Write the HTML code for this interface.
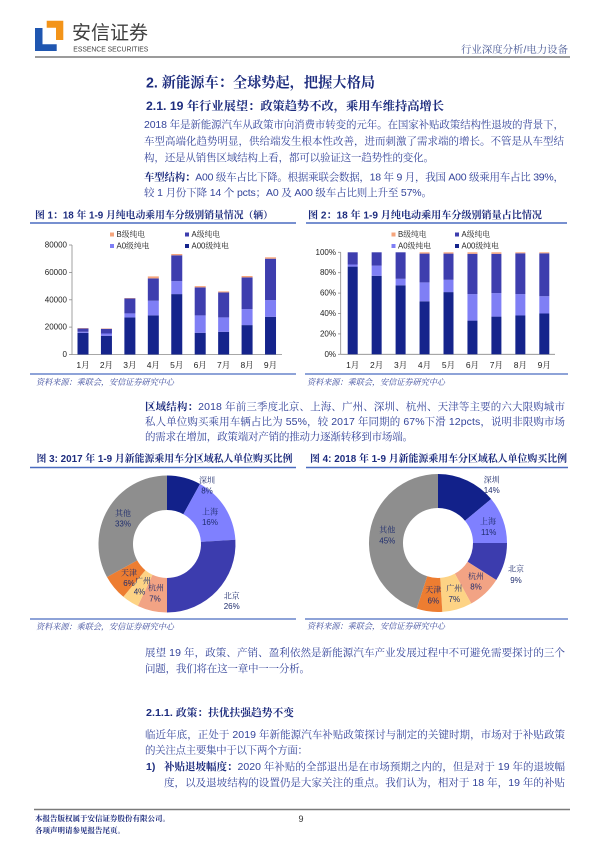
<!DOCTYPE html>
<html><head><meta charset="utf-8">
<style>
html,body{margin:0;padding:0;background:#fff;}
svg{display:block;}
text{font-family:"Liberation Sans","Noto Serif CJK SC",serif;dominant-baseline:central;}
.b{font-size:10.5px;fill:#34449a;}
.bb{font-weight:bold;fill:#1d2c7e;}
.ft{font-size:10px;font-weight:bold;fill:#1d2c7e;}
.src{font-size:8.5px;font-style:italic;fill:#3b4a9c;}
.tk{font-size:8px;fill:#222;}
.lg{font-size:7.8px;fill:#222;}
.pl{font-size:8px;fill:#1f2d6e;}
</style></head>
<body>
<svg width="600" height="848" viewBox="0 0 600 848" xmlns="http://www.w3.org/2000/svg">
<rect width="600" height="848" fill="#fff"/>
<!-- Header logo -->
<path d="M35,28 H42.5 V44.3 H56.7 V51 H35 Z" fill="#1f56b0"/>
<path d="M46.7,20.7 H63.3 V40 H56 V27.7 H46.7 Z" fill="#f39419"/>
<text x="72" y="33.5" style="font-size:19px;fill:#404040;font-family:'Liberation Sans','Noto Sans CJK SC',sans-serif" textLength="76" lengthAdjust="spacingAndGlyphs">安信证券</text>
<text x="73.3" y="49.2" style="font-size:7.5px;fill:#404040;font-family:'Liberation Sans',sans-serif" textLength="75" lengthAdjust="spacingAndGlyphs">ESSENCE SECURITIES</text>
<text x="568" y="50.5" text-anchor="end" style="font-size:10px;fill:#4a5a96" textLength="107" lengthAdjust="spacingAndGlyphs">行业深度分析/电力设备</text>
<line x1="35" y1="57" x2="570" y2="57" stroke="#7a7a7a" stroke-width="1.6"/>

<!-- Titles -->
<text x="146" y="83.5" style="font-size:14.5px;font-weight:bold;fill:#1d2c7e" textLength="229" lengthAdjust="spacingAndGlyphs">2. 新能源车：全球势起，把握大格局</text>
<text x="146" y="106" style="font-size:12px;font-weight:bold;fill:#1d2c7e" textLength="298" lengthAdjust="spacingAndGlyphs">2.1. 19 年行业展望：政策趋势不改，乘用车维持高增长</text>

<!-- Paragraph 1 -->
<text class="b" x="144" y="125" textLength="420" lengthAdjust="spacing">2018 年是新能源汽车从政策市向消费市转变的元年。在国家补贴政策结构性退坡的背景下，</text>
<text class="b" x="144" y="141.5" textLength="420" lengthAdjust="spacing">车型高端化趋势明显，供给端发生根本性改善，进而刺激了需求端的增长。不管是从车型结</text>
<text class="b" x="144" y="158" textLength="290" lengthAdjust="spacing">构，还是从销售区域结构上看，都可以验证这一趋势性的变化。</text>
<text class="b" x="144" y="177.5" textLength="420" lengthAdjust="spacing"><tspan class="bb">车型结构：</tspan>A00 级车占比下降。根据乘联会数据，18 年 9 月，我国 A00 级乘用车占比 39%，</text>
<text class="b" x="144" y="193" textLength="288" lengthAdjust="spacing">较 1 月份下降 14 个 pcts；A0 及 A00 级车占比则上升至 57%。</text>

<!-- Figure 1 -->
<text class="ft" x="35" y="216" textLength="238" lengthAdjust="spacingAndGlyphs">图 1：18 年 1-9 月纯电动乘用车分级别销量情况（辆）</text>
<line x1="30" y1="223" x2="296" y2="223" stroke="#4a6cc0" stroke-width="1.5"/>
<rect x="110" y="232.5" width="4" height="4" fill="#f5a57c"/><text class="lg" x="116.5" y="234.5">B级纯电</text>
<rect x="185" y="232.5" width="4" height="4" fill="#3e3eae"/><text class="lg" x="191.5" y="234.5">A级纯电</text>
<rect x="110" y="244" width="4" height="4" fill="#7f7ff5"/><text class="lg" x="116.5" y="246">A0级纯电</text>
<rect x="185" y="244" width="4" height="4" fill="#15248c"/><text class="lg" x="191.5" y="246">A00级纯电</text>
<g class="tk" text-anchor="end">
<text x="67" y="245">80000</text><text x="67" y="272.4">60000</text><text x="67" y="299.8">40000</text><text x="67" y="327.1">20000</text><text x="67" y="354.5">0</text>
</g>
<g stroke="#8a8a8a" stroke-width="0.8">
<line x1="72" y1="245" x2="72" y2="354.5"/><line x1="72" y1="354.5" x2="282" y2="354.5"/>
<line x1="69" y1="245" x2="72" y2="245"/><line x1="69" y1="272.4" x2="72" y2="272.4"/><line x1="69" y1="299.8" x2="72" y2="299.8"/><line x1="69" y1="327.1" x2="72" y2="327.1"/><line x1="69" y1="354.5" x2="72" y2="354.5"/>
</g>
<g>
<rect x="77.5" y="332.8" width="11" height="21.7" fill="#15248c"/><rect x="77.5" y="331.8" width="11" height="1" fill="#7f7ff5"/><rect x="77.5" y="328.5" width="11" height="3.3" fill="#3e3eae"/><rect x="77.5" y="328.1" width="11" height="0.4" fill="#f5a57c"/>
<rect x="100.94" y="335.8" width="11" height="18.7" fill="#15248c"/><rect x="100.94" y="333.5" width="11" height="2.3" fill="#7f7ff5"/><rect x="100.94" y="328.8" width="11" height="4.7" fill="#3e3eae"/><rect x="100.94" y="328.4" width="11" height="0.4" fill="#f5a57c"/>
<rect x="124.38" y="317.4" width="11" height="37.1" fill="#15248c"/><rect x="124.38" y="313.4" width="11" height="4" fill="#7f7ff5"/><rect x="124.38" y="298.4" width="11" height="15" fill="#3e3eae"/><rect x="124.38" y="298" width="11" height="0.4" fill="#f5a57c"/>
<rect x="147.82" y="315.4" width="11" height="39.1" fill="#15248c"/><rect x="147.82" y="300.7" width="11" height="14.7" fill="#7f7ff5"/><rect x="147.82" y="278.4" width="11" height="22.3" fill="#3e3eae"/><rect x="147.82" y="276.4" width="11" height="2" fill="#f5a57c"/>
<rect x="171.26" y="294.1" width="11" height="60.4" fill="#15248c"/><rect x="171.26" y="281.1" width="11" height="13" fill="#7f7ff5"/><rect x="171.26" y="255.3" width="11" height="25.8" fill="#3e3eae"/><rect x="171.26" y="254" width="11" height="1.3" fill="#f5a57c"/>
<rect x="194.7" y="332.8" width="11" height="21.7" fill="#15248c"/><rect x="194.7" y="315.4" width="11" height="17.4" fill="#7f7ff5"/><rect x="194.7" y="287.4" width="11" height="28" fill="#3e3eae"/><rect x="194.7" y="286.1" width="11" height="1.3" fill="#f5a57c"/>
<rect x="218.14" y="331.8" width="11" height="22.7" fill="#15248c"/><rect x="218.14" y="317.4" width="11" height="14.4" fill="#7f7ff5"/><rect x="218.14" y="292.4" width="11" height="25" fill="#3e3eae"/><rect x="218.14" y="291.4" width="11" height="1" fill="#f5a57c"/>
<rect x="241.58" y="325.1" width="11" height="29.4" fill="#15248c"/><rect x="241.58" y="309.1" width="11" height="16" fill="#7f7ff5"/><rect x="241.58" y="277.4" width="11" height="31.7" fill="#3e3eae"/><rect x="241.58" y="276" width="11" height="1.4" fill="#f5a57c"/>
<rect x="265.02" y="316.8" width="11" height="37.7" fill="#15248c"/><rect x="265.02" y="300.1" width="11" height="16.7" fill="#7f7ff5"/><rect x="265.02" y="258.7" width="11" height="41.4" fill="#3e3eae"/><rect x="265.02" y="257.3" width="11" height="1.4" fill="#f5a57c"/>
</g>
<g class="tk" text-anchor="middle" style="font-size:8.5px">
<text x="83" y="365">1月</text><text x="106.44" y="365">2月</text><text x="129.88" y="365">3月</text><text x="153.32" y="365">4月</text><text x="176.76" y="365">5月</text><text x="200.2" y="365">6月</text><text x="223.64" y="365">7月</text><text x="247.08" y="365">8月</text><text x="270.52" y="365">9月</text>
</g>
<line x1="30" y1="374" x2="296" y2="374" stroke="#4a6cc0" stroke-width="1.2"/>
<text class="src" x="36" y="382" textLength="138" lengthAdjust="spacingAndGlyphs">资料来源：乘联会，安信证券研究中心</text>

<!-- Figure 2 -->
<text class="ft" x="308" y="216" textLength="234" lengthAdjust="spacingAndGlyphs">图 2：18 年 1-9 月纯电动乘用车分级别销量占比情况</text>
<line x1="306" y1="223" x2="567" y2="223" stroke="#4a6cc0" stroke-width="1.5"/>
<rect x="391.5" y="232.5" width="4" height="4" fill="#f5a57c"/><text class="lg" x="398" y="234.5">B级纯电</text>
<rect x="455" y="232.5" width="4" height="4" fill="#3e3eae"/><text class="lg" x="461.5" y="234.5">A级纯电</text>
<rect x="391.5" y="244" width="4" height="4" fill="#7f7ff5"/><text class="lg" x="398" y="246">A0级纯电</text>
<rect x="455" y="244" width="4" height="4" fill="#15248c"/><text class="lg" x="461.5" y="246">A00级纯电</text>
<g class="tk" text-anchor="end">
<text x="336" y="252.3">100%</text><text x="336" y="272.7">80%</text><text x="336" y="293.1">60%</text><text x="336" y="313.5">40%</text><text x="336" y="333.9">20%</text><text x="336" y="354.3">0%</text>
</g>
<g stroke="#8a8a8a" stroke-width="0.8">
<line x1="340.7" y1="252.3" x2="340.7" y2="354.3"/><line x1="340.7" y1="354.3" x2="555" y2="354.3"/>
<line x1="338" y1="252.3" x2="340.7" y2="252.3"/><line x1="338" y1="272.7" x2="340.7" y2="272.7"/><line x1="338" y1="293.1" x2="340.7" y2="293.1"/><line x1="338" y1="313.5" x2="340.7" y2="313.5"/><line x1="338" y1="333.9" x2="340.7" y2="333.9"/><line x1="338" y1="354.3" x2="340.7" y2="354.3"/>
</g>
<g>
<rect x="347.7" y="266.6" width="10" height="87.7" fill="#15248c"/><rect x="347.7" y="264.5" width="10" height="2.1" fill="#7f7ff5"/><rect x="347.7" y="252.3" width="10" height="12.2" fill="#3e3eae"/>
<rect x="371.65" y="275.8" width="10" height="78.5" fill="#15248c"/><rect x="371.65" y="265.6" width="10" height="10.2" fill="#7f7ff5"/><rect x="371.65" y="252.3" width="10" height="13.3" fill="#3e3eae"/>
<rect x="395.6" y="285.3" width="10" height="69" fill="#15248c"/><rect x="395.6" y="278.8" width="10" height="6.5" fill="#7f7ff5"/><rect x="395.6" y="252.3" width="10" height="26.5" fill="#3e3eae"/>
<rect x="419.55" y="301.3" width="10" height="53" fill="#15248c"/><rect x="419.55" y="282.4" width="10" height="18.9" fill="#7f7ff5"/><rect x="419.55" y="253.6" width="10" height="28.8" fill="#3e3eae"/><rect x="419.55" y="252.3" width="10" height="1.3" fill="#f5a57c"/>
<rect x="443.5" y="292.1" width="10" height="62.2" fill="#15248c"/><rect x="443.5" y="279.8" width="10" height="12.3" fill="#7f7ff5"/><rect x="443.5" y="253.6" width="10" height="26.2" fill="#3e3eae"/><rect x="443.5" y="252.3" width="10" height="1.3" fill="#f5a57c"/>
<rect x="467.45" y="320.6" width="10" height="33.7" fill="#15248c"/><rect x="467.45" y="294.1" width="10" height="26.5" fill="#7f7ff5"/><rect x="467.45" y="253.8" width="10" height="40.3" fill="#3e3eae"/><rect x="467.45" y="252.3" width="10" height="1.5" fill="#f5a57c"/>
<rect x="491.4" y="316.6" width="10" height="37.7" fill="#15248c"/><rect x="491.4" y="293.1" width="10" height="23.5" fill="#7f7ff5"/><rect x="491.4" y="253.8" width="10" height="39.3" fill="#3e3eae"/><rect x="491.4" y="252.3" width="10" height="1.5" fill="#f5a57c"/>
<rect x="515.35" y="315.5" width="10" height="38.8" fill="#15248c"/><rect x="515.35" y="294.1" width="10" height="21.4" fill="#7f7ff5"/><rect x="515.35" y="253.3" width="10" height="40.8" fill="#3e3eae"/><rect x="515.35" y="252.3" width="10" height="1" fill="#f5a57c"/>
<rect x="539.3" y="313.5" width="10" height="40.8" fill="#15248c"/><rect x="539.3" y="296.2" width="10" height="17.3" fill="#7f7ff5"/><rect x="539.3" y="253.3" width="10" height="42.9" fill="#3e3eae"/><rect x="539.3" y="252.3" width="10" height="1" fill="#f5a57c"/>
</g>
<g class="tk" text-anchor="middle" style="font-size:8.5px">
<text x="352.7" y="365">1月</text><text x="376.65" y="365">2月</text><text x="400.6" y="365">3月</text><text x="424.55" y="365">4月</text><text x="448.5" y="365">5月</text><text x="472.45" y="365">6月</text><text x="496.4" y="365">7月</text><text x="520.35" y="365">8月</text><text x="544.3" y="365">9月</text>
</g>
<line x1="305" y1="374" x2="568" y2="374" stroke="#4a6cc0" stroke-width="1.2"/>
<text class="src" x="307" y="382" textLength="138" lengthAdjust="spacingAndGlyphs">资料来源：乘联会，安信证券研究中心</text>

<!-- Paragraph 区域结构 -->
<text class="b" x="145" y="407" textLength="420" lengthAdjust="spacing"><tspan class="bb">区域结构：</tspan>2018 年前三季度北京、上海、广州、深圳、杭州、天津等主要的六大限购城市</text>
<text class="b" x="145" y="422" textLength="420" lengthAdjust="spacing">私人单位购买乘用车辆占比为 55%，较 2017 年同期的 67%下滑 12pcts，说明非限购市场</text>
<text class="b" x="145" y="437" textLength="268" lengthAdjust="spacing">的需求在增加，政策端对产销的推动力逐渐转移到市场端。</text>

<!-- Figure 3 -->
<text class="ft" x="36.5" y="459.5" textLength="256" lengthAdjust="spacingAndGlyphs">图 3: 2017 年 1-9 月新能源乘用车分区域私人单位购买比例</text>
<line x1="30" y1="467.5" x2="296" y2="467.5" stroke="#4a6cc0" stroke-width="1.5"/>
<g>
<path d="M167,475.5 A68.5,68.5 0 0 1 200,483.97 L183.38,514.21 A34,34 0 0 0 167,510 Z" fill="#12218a"/>
<path d="M200,483.97 A68.5,68.5 0 0 1 235.36,539.7 L200.93,541.86 A34,34 0 0 0 183.38,514.21 Z" fill="#7f80ff"/>
<path d="M235.36,539.7 A68.5,68.5 0 0 1 167,612.5 L167,578 A34,34 0 0 0 200.93,541.86 Z" fill="#3c3cae"/>
<path d="M167,612.5 A68.5,68.5 0 0 1 137.83,605.98 L152.52,574.76 A34,34 0 0 0 167,578 Z" fill="#f2a384"/>
<path d="M137.83,605.98 A68.5,68.5 0 0 1 123.34,596.78 L145.33,570.2 A34,34 0 0 0 152.52,574.76 Z" fill="#fdd385"/>
<path d="M123.34,596.78 A68.5,68.5 0 0 1 106.97,577 L137.21,560.38 A34,34 0 0 0 145.33,570.2 Z" fill="#ed7d31"/>
<path d="M106.97,577 A68.5,68.5 0 0 1 167,475.5 L167,510 A34,34 0 0 0 137.21,560.38 Z" fill="#8e8e8e"/>
</g>
<g class="pl" text-anchor="middle">
<text x="207" y="480.5">深圳</text><text x="207" y="491">8%</text>
<text x="210" y="512">上海</text><text x="210" y="522.5">16%</text>
<text x="231.7" y="596">北京</text><text x="231.7" y="606.7">26%</text>
<text x="156" y="588">杭州</text><text x="155" y="599">7%</text>
<text x="143" y="581">广州</text><text x="139.5" y="592">4%</text>
<text x="129" y="573">天津</text><text x="129" y="583.3">6%</text>
<text x="123" y="513.7">其他</text><text x="123" y="524">33%</text>
</g>
<line x1="30" y1="619" x2="296" y2="619" stroke="#4a6cc0" stroke-width="1.2"/>
<text class="src" x="36" y="626.5" textLength="138" lengthAdjust="spacingAndGlyphs">资料来源：乘联会，安信证券研究中心</text>

<!-- Figure 4 -->
<text class="ft" x="310" y="459.5" textLength="257" lengthAdjust="spacingAndGlyphs">图 4: 2018 年 1-9 月新能源乘用车分区域私人单位购买比例</text>
<line x1="306" y1="467.5" x2="568" y2="467.5" stroke="#4a6cc0" stroke-width="1.5"/>
<g>
<path d="M438,474 A69,69 0 0 1 491.16,499.02 L464.97,520.69 A35,35 0 0 0 438,508 Z" fill="#12218a"/>
<path d="M491.16,499.02 A69,69 0 0 1 507,543 L473,543 A35,35 0 0 0 464.97,520.69 Z" fill="#7f80ff"/>
<path d="M507,543 A69,69 0 0 1 496.26,579.97 L467.55,561.75 A35,35 0 0 0 473,543 Z" fill="#3c3cae"/>
<path d="M496.26,579.97 A69,69 0 0 1 471.24,603.46 L454.86,573.67 A35,35 0 0 0 467.55,561.75 Z" fill="#f2a384"/>
<path d="M471.24,603.46 A69,69 0 0 1 442.33,611.86 L440.2,577.93 A35,35 0 0 0 454.86,573.67 Z" fill="#fdd385"/>
<path d="M442.33,611.86 A69,69 0 0 1 416.68,608.63 L427.18,576.29 A35,35 0 0 0 440.2,577.93 Z" fill="#ed7d31"/>
<path d="M416.68,608.63 A69,69 0 0 1 438,474 L438,508 A35,35 0 0 0 427.18,576.29 Z" fill="#8e8e8e"/>
</g>
<g class="pl" text-anchor="middle">
<text x="491.7" y="480">深圳</text><text x="491.7" y="490.5">14%</text>
<text x="488" y="521.7">上海</text><text x="488.7" y="532.7">11%</text>
<text x="516" y="569">北京</text><text x="516" y="580.7">9%</text>
<text x="476" y="576.7">杭州</text><text x="476" y="587">8%</text>
<text x="454.3" y="588.3">广州</text><text x="454.3" y="599.3">7%</text>
<text x="433.3" y="590">天津</text><text x="433.3" y="601">6%</text>
<text x="387.3" y="530">其他</text><text x="387.3" y="541">45%</text>
</g>
<line x1="305" y1="619" x2="568" y2="619" stroke="#4a6cc0" stroke-width="1.2"/>
<text class="src" x="307" y="626" textLength="138" lengthAdjust="spacingAndGlyphs">资料来源：乘联会，安信证券研究中心</text>

<!-- Lower paragraphs -->
<text class="b" x="145" y="653" textLength="420" lengthAdjust="spacing">展望 19 年，政策、产销、盈利依然是新能源汽车产业发展过程中不可避免需要探讨的三个</text>
<text class="b" x="145" y="669" textLength="165" lengthAdjust="spacing">问题，我们将在这一章中一一分析。</text>
<text x="146" y="713" style="font-size:10.5px;font-weight:bold;fill:#1d2c7e" textLength="148" lengthAdjust="spacingAndGlyphs">2.1.1. 政策：扶优扶强趋势不变</text>
<text class="b" x="145" y="735" textLength="420" lengthAdjust="spacing">临近年底，正处于 2019 年新能源汽车补贴政策探讨与制定的关键时期，市场对于补贴政策</text>
<text class="b" x="145" y="750.5" textLength="163" lengthAdjust="spacing">的关注点主要集中于以下两个方面：</text>
<text class="b bb" x="146" y="767" style="font-size:10.5px">1)</text>
<text class="b" x="164" y="767" textLength="401" lengthAdjust="spacing"><tspan class="bb">补贴退坡幅度：</tspan>2020 年补贴的全部退出是在市场预期之内的，但是对于 19 年的退坡幅</text>
<text class="b" x="164" y="783" textLength="401" lengthAdjust="spacing">度，以及退坡结构的设置仍是大家关注的重点。我们认为，相对于 18 年，19 年的补贴</text>

<!-- Footer -->
<line x1="34" y1="809.5" x2="570" y2="809.5" stroke="#7a7a7a" stroke-width="1.4"/>
<text x="35" y="818.5" style="font-size:7.5px;font-weight:bold;fill:#1d2c7e" textLength="135" lengthAdjust="spacingAndGlyphs">本报告版权属于安信证券股份有限公司。</text>
<text x="35" y="830.5" style="font-size:7.5px;font-weight:bold;fill:#1d2c7e" textLength="90" lengthAdjust="spacingAndGlyphs">各项声明请参见报告尾页。</text>
<text x="301" y="819" text-anchor="middle" style="font-size:9px;fill:#333">9</text>
</svg>
</body></html>
